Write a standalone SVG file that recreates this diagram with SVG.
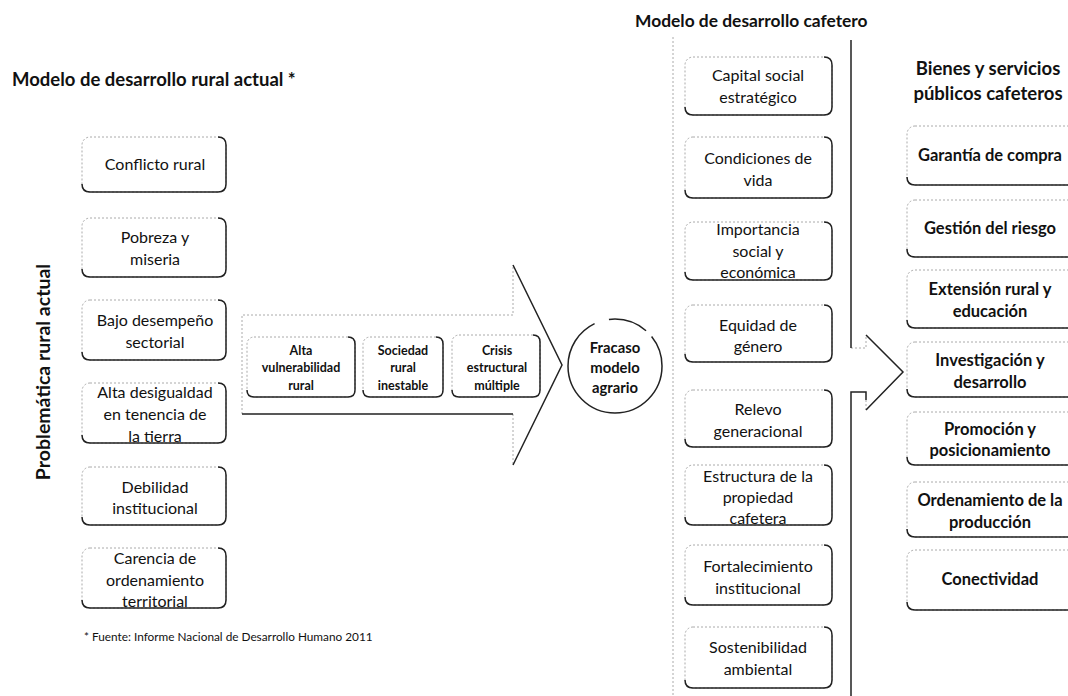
<svg xmlns="http://www.w3.org/2000/svg" width="1068" height="696" viewBox="0 0 1068 696">
<style>
text{font-family:Lato,"Open Sans","Liberation Sans",sans-serif;fill:#111;text-anchor:middle}
.h{font-weight:bold;font-size:18.5px;text-anchor:start}
.l{font-size:16px}
.m{font-size:16px}
.r{font-size:16.5px;font-weight:bold}
.s{font-size:12.5px;font-weight:bold}
.c{font-size:14.8px;font-weight:bold}
.f{font-size:11.8px;text-anchor:start}
.lt{fill:none;stroke:#aaa;stroke-width:1;stroke-dasharray:2 2}
.dk{fill:none;stroke:#222;stroke-width:1.5}
</style>
<rect width="1068" height="696" fill="#fff"/>
<text class="h" x="12" y="86">Modelo de desarrollo rural actual *</text>
<text class="h" x="635" y="27" style="font-size:17.4px">Modelo de desarrollo cafetero</text>
<text class="h" x="988" y="75" style="text-anchor:middle;font-size:18.5px">Bienes y servicios</text>
<text class="h" x="988" y="100" style="text-anchor:middle;font-size:18.5px">públicos cafeteros</text>
<text class="h" transform="translate(50 372) rotate(-90)" style="text-anchor:middle;font-size:19.5px">Problemática rural actual</text>
<text class="f" x="84" y="641">* Fuente: Informe Nacional de Desarrollo Humano 2011</text>

<g id="connectors">
<path class="lt" d="M242,414 L242,315 L513,315 L513,265 M513,414 L513,465"/>
<path class="dk" d="M242,414 L513,414 M513,265 L562,365 L513,465"/>
<path class="lt" d="M673,37 L673,696 M851,348 L866,348 L866,335 M866,400 L866,410"/>
<path class="dk" d="M851,40 L851,348 M851,696 L851,392 L866,392 L866,400 M866,335 L903,372 L866,410"/>
</g>

<g id="left1"><rect class="lt" x="82" y="137" width="144" height="55" rx="8"/><path class="dk" d="M82,184 Q82,192 90,192 L218,192 Q226,192 226,184 L226,145 Q226,137 218,137"/><text class="l" x="155" y="170">Conflicto rural</text></g>
<g id="left2"><rect class="lt" x="82" y="218" width="144" height="59" rx="8"/><path class="dk" d="M82,269 Q82,277 90,277 L218,277 Q226,277 226,269 L226,226 Q226,218 218,218"/><text class="l" x="155" y="243">Pobreza y</text><text class="l" x="155" y="265">miseria</text></g>
<g id="left3"><rect class="lt" x="82" y="300" width="144" height="60" rx="8"/><path class="dk" d="M82,352 Q82,360 90,360 L218,360 Q226,360 226,352 L226,308 Q226,300 218,300"/><text class="l" x="155" y="326">Bajo desempeño</text><text class="l" x="155" y="348">sectorial</text></g>
<g id="left4"><rect class="lt" x="82" y="383" width="144" height="60" rx="8"/><path class="dk" d="M82,435 Q82,443 90,443 L218,443 Q226,443 226,435 L226,391 Q226,383 218,383"/><text class="l" x="155" y="398">Alta desigualdad</text><text class="l" x="155" y="420">en tenencia de</text><text class="l" x="155" y="442">la tierra</text></g>
<g id="left5"><rect class="lt" x="82" y="467" width="144" height="58" rx="8"/><path class="dk" d="M82,517 Q82,525 90,525 L218,525 Q226,525 226,517 L226,475 Q226,467 218,467"/><text class="l" x="155" y="493">Debilidad</text><text class="l" x="155" y="514">institucional</text></g>
<g id="left6"><rect class="lt" x="82" y="548" width="144" height="60" rx="8"/><path class="dk" d="M82,600 Q82,608 90,608 L218,608 Q226,608 226,600 L226,556 Q226,548 218,548"/><text class="l" x="155" y="564">Carencia de</text><text class="l" x="155" y="586">ordenamiento</text><text class="l" x="155" y="607">territorial</text></g>

<g id="arr1"><rect class="lt" x="247" y="337" width="108" height="60" rx="7"/><path class="dk" d="M247,390 Q247,397 254,397 L348,397 Q355,397 355,390 L355,344 Q355,337 348,337"/><text class="s" x="301" y="355">Alta</text><text class="s" x="301" y="372">vulnerabilidad</text><text class="s" x="301" y="390">rural</text></g>
<g id="arr2"><rect class="lt" x="363" y="337" width="80" height="60" rx="7"/><path class="dk" d="M363,390 Q363,397 370,397 L436,397 Q443,397 443,390 L443,344 Q443,337 436,337"/><text class="s" x="403" y="355">Sociedad</text><text class="s" x="403" y="372">rural</text><text class="s" x="403" y="390">inestable</text></g>
<g id="arr3"><rect class="lt" x="452" y="335" width="88" height="62" rx="7"/><path class="dk" d="M452,390 Q452,397 459,397 L533,397 Q540,397 540,390 L540,342 Q540,335 533,335"/><text class="s" x="497" y="355">Crisis</text><text class="s" x="497" y="372">estructural</text><text class="s" x="497" y="390">múltiple</text></g>

<g id="fracaso"><circle cx="615" cy="366" r="47" fill="none" stroke="#222" stroke-width="1.5" stroke-dasharray="200 15 40 8"/><text class="c" x="615" y="353">Fracaso</text><text class="c" x="615" y="373">modelo</text><text class="c" x="615" y="393">agrario</text></g>

<g id="mid1"><rect class="lt" x="685" y="57" width="147" height="58" rx="8"/><path class="dk" d="M685,107 Q685,115 693,115 L824,115 Q832,115 832,107 L832,65 Q832,57 824,57"/><text class="m" x="758" y="81">Capital social</text><text class="m" x="758" y="103">estratégico</text></g>
<g id="mid2"><rect class="lt" x="685" y="137" width="147" height="61" rx="8"/><path class="dk" d="M685,190 Q685,198 693,198 L824,198 Q832,198 832,190 L832,145 Q832,137 824,137"/><text class="m" x="758" y="164">Condiciones de</text><text class="m" x="758" y="186">vida</text></g>
<g id="mid3"><rect class="lt" x="685" y="222" width="147" height="58" rx="8"/><path class="dk" d="M685,272 Q685,280 693,280 L824,280 Q832,280 832,272 L832,230 Q832,222 824,222"/><text class="m" x="758" y="235">Importancia</text><text class="m" x="758" y="257">social y</text><text class="m" x="758" y="278">económica</text></g>
<g id="mid4"><rect class="lt" x="685" y="305" width="147" height="57" rx="8"/><path class="dk" d="M685,354 Q685,362 693,362 L824,362 Q832,362 832,354 L832,313 Q832,305 824,305"/><text class="m" x="758" y="331">Equidad de</text><text class="m" x="758" y="352">género</text></g>
<g id="mid5"><rect class="lt" x="685" y="390" width="147" height="57" rx="8"/><path class="dk" d="M685,439 Q685,447 693,447 L824,447 Q832,447 832,439 L832,398 Q832,390 824,390"/><text class="m" x="758" y="415">Relevo</text><text class="m" x="758" y="437">generacional</text></g>
<g id="mid6"><rect class="lt" x="685" y="465" width="147" height="60" rx="8"/><path class="dk" d="M685,517 Q685,525 693,525 L824,525 Q832,525 832,517 L832,473 Q832,465 824,465"/><text class="m" x="758" y="482">Estructura de la</text><text class="m" x="758" y="503">propiedad</text><text class="m" x="758" y="524">cafetera</text></g>
<g id="mid7"><rect class="lt" x="685" y="545" width="147" height="60" rx="8"/><path class="dk" d="M685,597 Q685,605 693,605 L824,605 Q832,605 832,597 L832,553 Q832,545 824,545"/><text class="m" x="758" y="572">Fortalecimiento</text><text class="m" x="758" y="594">institucional</text></g>
<g id="mid8"><rect class="lt" x="685" y="627" width="147" height="61" rx="8"/><path class="dk" d="M685,680 Q685,688 693,688 L824,688 Q832,688 832,680 L832,635 Q832,627 824,627"/><text class="m" x="758" y="653">Sostenibilidad</text><text class="m" x="758" y="675">ambiental</text></g>

<g id="right1"><rect class="lt" x="907" y="126" width="175" height="59" rx="8"/><path class="dk" d="M907,177 Q907,185 915,185 L1082,185"/><text class="r" x="990" y="161">Garantía de compra</text></g>
<g id="right2"><rect class="lt" x="907" y="200" width="175" height="57" rx="8"/><path class="dk" d="M907,249 Q907,257 915,257 L1082,257"/><text class="r" x="990" y="234">Gestión del riesgo</text></g>
<g id="right3"><rect class="lt" x="907" y="270" width="175" height="58" rx="8"/><path class="dk" d="M907,320 Q907,328 915,328 L1082,328"/><text class="r" x="990" y="295">Extensión rural  y</text><text class="r" x="990" y="317">educación</text></g>
<g id="right4"><rect class="lt" x="907" y="342" width="175" height="55" rx="8"/><path class="dk" d="M907,389 Q907,397 915,397 L1082,397"/><text class="r" x="990" y="366">Investigación y</text><text class="r" x="990" y="388">desarrollo</text></g>
<g id="right5"><rect class="lt" x="907" y="412" width="175" height="53" rx="8"/><path class="dk" d="M907,457 Q907,465 915,465 L1082,465"/><text class="r" x="990" y="435">Promoción y</text><text class="r" x="990" y="456">posicionamiento</text></g>
<g id="right6"><rect class="lt" x="907" y="482" width="175" height="55" rx="8"/><path class="dk" d="M907,529 Q907,537 915,537 L1082,537"/><text class="r" x="990" y="506">Ordenamiento de la</text><text class="r" x="990" y="528">producción</text></g>
<g id="right7"><rect class="lt" x="907" y="550" width="175" height="60" rx="8"/><path class="dk" d="M907,602 Q907,610 915,610 L1082,610"/><text class="r" x="990" y="585">Conectividad</text></g>
</svg>
